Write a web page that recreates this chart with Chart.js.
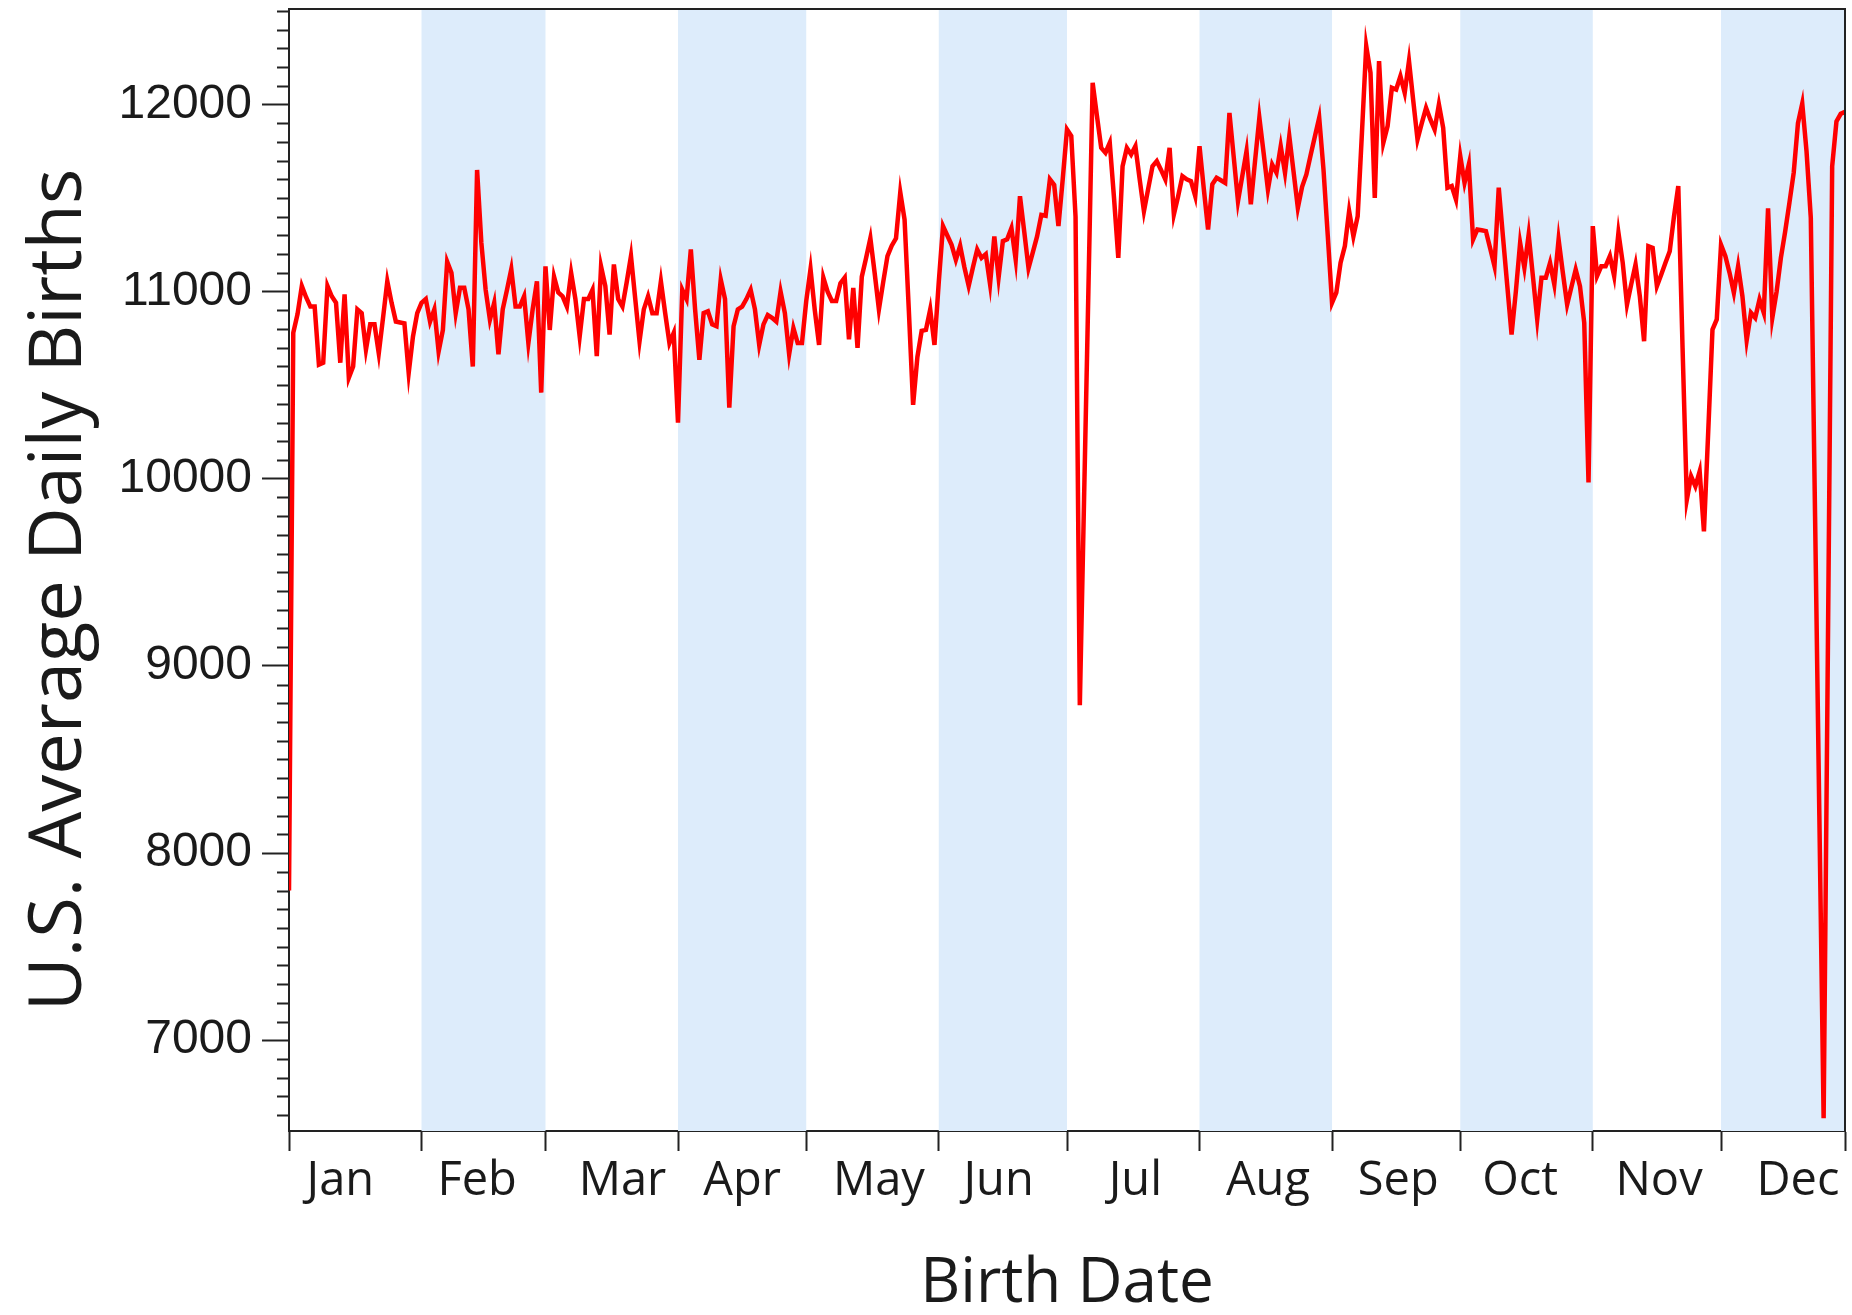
<!DOCTYPE html>
<html>
<head>
<meta charset="utf-8">
<script src="https://cdn.jsdelivr.net/npm/chart.js@4.4.1/dist/chart.umd.min.js"></script>
<style>
  html, body { margin: 0; padding: 0; background: #fff; }
</style>
</head>
<body>
<canvas id="birthsChart" width="1852" height="1315"></canvas>
<script>
// Month names and lengths (leap year, 366 days)
const monthNames = ['Jan', 'Feb', 'Mar', 'Apr', 'May', 'Jun', 'Jul', 'Aug', 'Sep', 'Oct', 'Nov', 'Dec'];
const monthDays = [31, 29, 31, 30, 31, 30, 31, 31, 30, 31, 30, 31];
// where each month name sits along the day axis, as in the picture
const monthLabelDays = [12, 44, 78, 106, 138, 166, 198, 229, 259.5, 288, 320.5, 353];
const yTicks = [7000, 8000, 9000, 10000, 11000, 12000];

// Average daily births, one value per day
const janBirths = [7800, 10780, 10880, 11030, 10970, 10920, 10920, 10610, 10620, 11030, 10975, 10940, 10620, 10985, 10540, 10600, 10905, 10885, 10690, 10825, 10825, 10670, 10860, 11055, 10940, 10840, 10835, 10830, 10565, 10760, 10885];
const febBirths = [10940, 10960, 10840, 10905, 10680, 10795, 11160, 11100, 10885, 11020, 11020, 10905, 10600, 11650, 11260, 11010, 10850, 10940, 10665, 10905, 11010, 11120, 10920, 10920, 10975, 10725, 10905, 11055, 10460];
const marBirths = [11135, 10795, 11080, 10995, 10975, 10920, 11100, 10960, 10760, 10960, 10960, 11010, 10655, 11135, 11030, 10770, 11145, 10960, 10920, 11050, 11190, 10960, 10735, 10905, 10975, 10885, 10885, 11055, 10885, 10725, 10780];
const aprBirths = [10300, 11010, 10960, 11225, 10905, 10635, 10885, 10895, 10825, 10815, 11065, 10960, 10380, 10815, 10905, 10920, 10960, 11010, 10905, 10715, 10825, 10875, 10860, 10840, 11000, 10885, 10665, 10805, 10725, 10725];
const mayBirths = [10950, 11120, 10900, 10715, 11075, 11000, 10950, 10950, 11045, 11075, 10745, 11020, 10700, 11080, 11180, 11285, 11100, 10905, 11050, 11190, 11245, 11285, 11530, 11385, 10900, 10395, 10650, 10790, 10795, 10905, 10715];
const junBirths = [11050, 11350, 11300, 11250, 11170, 11245, 11130, 11030, 11130, 11225, 11180, 11200, 11040, 11295, 11075, 11270, 11280, 11340, 11170, 11510, 11320, 11125, 11210, 11295, 11410, 11405, 11600, 11570, 11350, 11600];
const julBirths = [11866, 11831, 11400, 8790, 9900, 11000, 12116, 11940, 11768, 11742, 11795, 11500, 11180, 11670, 11768, 11733, 11777, 11600, 11430, 11550, 11670, 11697, 11650, 11599, 11768, 11412, 11510, 11617, 11600, 11590, 11510];
const augBirths = [11777, 11550, 11332, 11573, 11608, 11595, 11581, 11955, 11720, 11483, 11617, 11751, 11466, 11700, 11929, 11740, 11546, 11679, 11635, 11777, 11635, 11831, 11640, 11448, 11560, 11626, 11730, 11830, 11929, 11653, 11300];
const sepBirths = [10940, 10994, 11154, 11243, 11430, 11296, 11403, 11850, 12312, 12169, 11501, 12232, 11795, 11884, 12089, 12080, 12151, 12062, 12232, 12020, 11813, 11900, 11982, 11920, 11866, 12000, 11875, 11555, 11564, 11492];
const octBirths = [11724, 11581, 11679, 11278, 11332, 11328, 11323, 11230, 11136, 11555, 11290, 11030, 10771, 11000, 11261, 11127, 11305, 11080, 10851, 11074, 11074, 11154, 11038, 11278, 11100, 10931, 11025, 11118, 11029, 10833, 9980];
const novBirths = [11350, 11083, 11136, 11136, 11190, 11083, 11314, 11154, 10931, 11040, 11145, 10976, 10735, 11243, 11234, 11029, 11090, 11154, 11216, 11403, 11564, 10700, 9888, 10013, 9960, 10040, 9719, 10250, 10797, 10851];
const decBirths = [11250, 11190, 11100, 10994, 11136, 10976, 10740, 10887, 10860, 10958, 10887, 11445, 10860, 11000, 11180, 11320, 11475, 11635, 11900, 12005, 11750, 11394, 9800, 8200, 6583, 9100, 11670, 11909, 11950, 11960, 11930];

const dailyBirths = [].concat(janBirths, febBirths, marBirths, aprBirths, mayBirths, junBirths,
    julBirths, augBirths, sepBirths, octBirths, novBirths, decBirths);
// the day axis of the picture runs from Jan 1 to Dec 30
const xMax = 364;
const yMin = 6515;
const yMax = 12510;

// Month start offsets
const monthStarts = [];
let dayCount = 0;
monthDays.forEach(n => {
    monthStarts.push(dayCount);
    dayCount += n;
});
monthStarts.push(xMax);

const textColor = '#1a1a1a';
const axisColor = '#222';
const yTitle = 'U.S. Average Daily Births';

// Alternate month bands, minor y ticks, the box round the plot and the y title
const decorPlugin = {
    id: 'decor',
    beforeDatasetsDraw(chart) {
        const { ctx, chartArea, scales } = chart;
        ctx.save();
        ctx.fillStyle = 'rgb(221, 236, 251)';
        monthDays.forEach((n, i) => {
            if (i % 2 === 1) {
                const x0 = scales.x.getPixelForValue(monthStarts[i]);
                const x1 = scales.x.getPixelForValue(Math.min(monthStarts[i] + n, xMax));
                ctx.fillRect(x0, chartArea.top, x1 - x0, chartArea.bottom - chartArea.top);
            }
        });
        ctx.restore();
    },
    afterDraw(chart) {
        const { ctx, chartArea, scales } = chart;
        ctx.save();
        ctx.strokeStyle = axisColor;
        ctx.lineWidth = 2;
        ctx.beginPath();
        for (let v = 6600; v <= 12500; v += 100) {
            if (v % 1000 === 0) continue;
            const y = Math.round(scales.y.getPixelForValue(v)) + 0.5;
            ctx.moveTo(chartArea.left - 12, y);
            ctx.lineTo(chartArea.left, y);
        }
        ctx.moveTo(chartArea.left - 1, chartArea.top);
        ctx.lineTo(chartArea.right, chartArea.top);
        ctx.lineTo(chartArea.right, chartArea.bottom);
        ctx.stroke();

        // y title, set a little below the middle of the plot as in the picture
        ctx.translate(81, 590);
        ctx.rotate(-Math.PI / 2);
        ctx.fillStyle = textColor;
        ctx.font = '74px "Open Sans"';
        ctx.textAlign = 'center';
        ctx.textBaseline = 'alphabetic';
        ctx.fillText(yTitle, 0, 0);
        ctx.restore();
    }
};

const birthsCtx = document.getElementById('birthsChart').getContext('2d');
new Chart(birthsCtx, {
    type: 'line',
    data: {
        datasets: [{
            data: dailyBirths.map((v, i) => ({ x: i, y: v })),
            borderColor: '#ff0000',
            borderWidth: 4.5,
            pointRadius: 0,
            tension: 0,
            fill: false
        }]
    },
    options: {
        responsive: false,
        animation: false,
        devicePixelRatio: 1,
        layout: { padding: { top: 9, right: 7, left: 0, bottom: 0 } },
        scales: {
            x: {
                type: 'linear',
                min: 0,
                max: xMax,
                afterBuildTicks: scale => {
                    scale.ticks = monthStarts.concat(monthLabelDays).map(v => ({ value: v }));
                },
                afterFit: scale => {
                    scale.height = 184;
                    scale.paddingLeft = 0;
                    scale.paddingRight = 0;
                },
                grid: {
                    drawOnChartArea: false,
                    drawTicks: true,
                    tickLength: 20,
                    tickWidth: 2,
                    tickColor: c => (c.tick && monthStarts.includes(c.tick.value)) ? axisColor : 'rgba(0,0,0,0)'
                },
                border: { display: true, color: axisColor, width: 2 },
                ticks: {
                    autoSkip: false,
                    maxRotation: 0,
                    padding: 2,
                    color: textColor,
                    font: { family: 'Open Sans', size: 47 },
                    callback: v => {
                        const k = monthLabelDays.indexOf(v);
                        return k >= 0 ? monthNames[k] : '';
                    }
                },
                title: {
                    display: true,
                    text: 'Birth Date',
                    color: textColor,
                    font: { family: 'Open Sans', size: 62 },
                    padding: { top: 0, bottom: -7 }
                }
            },
            y: {
                min: yMin,
                max: yMax,
                afterBuildTicks: scale => {
                    scale.ticks = yTicks.map(v => ({ value: v }));
                },
                afterFit: scale => {
                    scale.width = 289;
                    scale.paddingTop = 0;
                    scale.paddingBottom = 0;
                },
                grid: {
                    drawOnChartArea: false,
                    drawTicks: true,
                    tickLength: 27,
                    tickWidth: 2,
                    tickColor: axisColor
                },
                border: { display: true, color: axisColor, width: 2 },
                ticks: {
                    padding: 10,
                    color: textColor,
                    font: { family: 'Liberation Sans', size: 48 },
                    callback: v => String(v)
                },
                title: { display: false }
            }
        },
        plugins: {
            legend: { display: false },
            tooltip: { enabled: false }
        }
    },
    plugins: [decorPlugin]
});
</script>
</body>
</html>
